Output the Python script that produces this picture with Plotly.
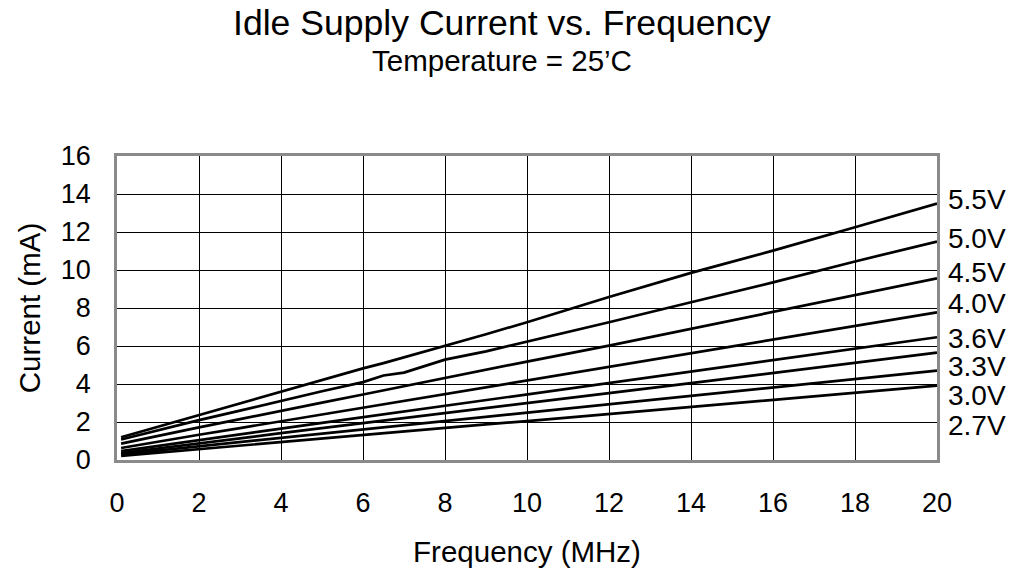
import plotly.graph_objects as go

freq = [0.1, 1, 2, 3, 4, 5, 6, 6.5, 7, 7.5, 8, 9, 10, 12, 14, 16, 18, 20]

i_55 = [1.2, 1.75, 2.38, 3.0, 3.62, 4.22, 4.82, 5.1, 5.4, 5.7, 6.02, 6.62, 7.25, 8.58, 9.85, 11.02, 12.25, 13.5]
i_50 = [1.08, 1.58, 2.1, 2.6, 3.12, 3.62, 4.1, 4.45, 4.6, 4.95, 5.28, 5.72, 6.22, 7.25, 8.3, 9.35, 10.45, 11.5]
i_45 = [0.86, 1.28, 1.72, 2.15, 2.6, 3.02, 3.45, 3.67, 3.88, 4.1, 4.3, 4.75, 5.18, 6.02, 6.9, 7.78, 8.68, 9.56]
i_40 = [0.63, 0.97, 1.33, 1.68, 2.04, 2.4, 2.76, 2.93, 3.11, 3.29, 3.47, 3.83, 4.18, 4.9, 5.62, 6.32, 7.05, 7.77]
i_36 = [0.47, 0.75, 1.05, 1.35, 1.65, 1.95, 2.25, 2.4, 2.55, 2.7, 2.85, 3.15, 3.43, 4.03, 4.65, 5.25, 5.85, 6.46]
i_33 = [0.37, 0.62, 0.88, 1.14, 1.41, 1.67, 1.94, 2.07, 2.2, 2.33, 2.47, 2.73, 2.98, 3.52, 4.05, 4.58, 5.12, 5.65]
i_30 = [0.3, 0.5, 0.72, 0.94, 1.16, 1.38, 1.6, 1.71, 1.82, 1.93, 2.05, 2.27, 2.48, 2.93, 3.37, 3.81, 4.26, 4.7]
i_27 = [0.22, 0.39, 0.57, 0.76, 0.94, 1.12, 1.31, 1.4, 1.49, 1.58, 1.68, 1.87, 2.05, 2.42, 2.8, 3.17, 3.54, 3.91]

series_names = ["5.5V", "5.0V", "4.5V", "4.0V", "3.6V", "3.3V", "3.0V", "2.7V"]
series_values = [i_55, i_50, i_45, i_40, i_36, i_33, i_30, i_27]
label_y = [13.7, 11.67, 9.89, 8.26, 6.38, 4.91, 3.38, 1.8]

FONT = "Liberation Sans, Arial, Helvetica, sans-serif"

fig = go.Figure()
for name, vals in zip(series_names, series_values):
    fig.add_trace(go.Scatter(x=freq, y=vals, mode="lines", name=name,
                             line=dict(color="black", width=2.7)))

for name, ly in zip(series_names, label_y):
    fig.add_annotation(x=1.011, xref="paper", y=ly, yref="y", text=name,
                       showarrow=False, xanchor="left", yanchor="middle",
                       font=dict(size=28, color="black", family=FONT))

fig.add_annotation(x=0.4695, xref="paper", y=1.436, yref="paper",
                   text="Idle Supply Current vs. Frequency", showarrow=False,
                   xanchor="center", yanchor="middle",
                   font=dict(size=35.6, color="black", family=FONT))
fig.add_annotation(x=0.4695, xref="paper", y=1.315, yref="paper",
                   text="Temperature = 25’C", showarrow=False,
                   xanchor="center", yanchor="middle",
                   font=dict(size=29.5, color="black", family=FONT))

fig.update_layout(
    width=1033, height=573,
    margin=dict(l=117, r=96, t=156, b=113),
    paper_bgcolor="white", plot_bgcolor="white",
    showlegend=False,
    font=dict(family=FONT, color="black"),
)
fig.update_xaxes(range=[0, 20], dtick=2, tick0=0, automargin=False,
                 showgrid=True, gridcolor="black", gridwidth=1,
                 zeroline=False, showline=True, mirror=True,
                 linecolor="#8a8a8a", linewidth=2.5,
                 ticks="", ticklabelstandoff=17,
                 tickfont=dict(size=27, family=FONT, color="black"),
                 title=dict(text="Frequency (MHz)", standoff=25,
                            font=dict(size=29.5, family=FONT, color="black")))
fig.update_yaxes(range=[0, 16], dtick=2, tick0=0, automargin=False,
                 showgrid=True, gridcolor="black", gridwidth=1,
                 zeroline=False, showline=True, mirror=True,
                 linecolor="#8a8a8a", linewidth=2.5,
                 ticks="", ticklabelstandoff=18,
                 tickfont=dict(size=27, family=FONT, color="black"),
                 title=dict(text="Current (mA)", standoff=12,
                            font=dict(size=29.5, family=FONT, color="black")))

fig.write_html("out.html", config={"displayModeBar": False},
               post_script="document.body.style.margin='0px';")
